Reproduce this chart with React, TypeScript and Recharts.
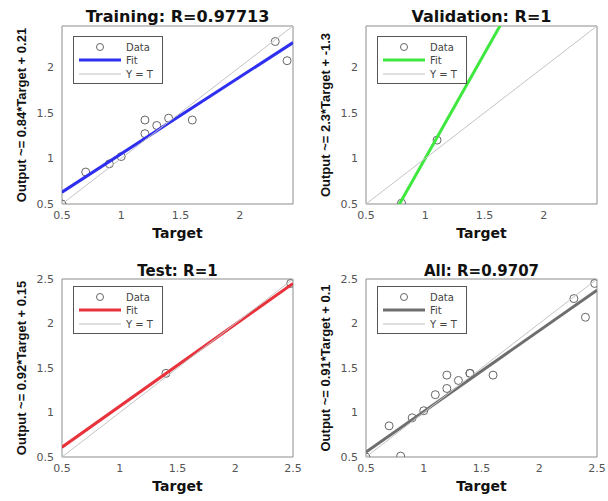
import { ScatterChart, Scatter, XAxis, YAxis, ReferenceArea } from "recharts";

// targets / outputs
const trainTarget = [0.5, 0.7, 0.9, 1.0, 1.2, 1.2, 1.3, 1.4, 1.6, 2.3, 2.4];
const trainOutput = [0.5, 0.85, 0.94, 1.02, 1.42, 1.27, 1.36, 1.44, 1.42, 2.28, 2.07];
const valTarget = [0.8, 1.1];
const valOutput = [0.51, 1.2];
const testTarget = [1.4, 2.48];
const testOutput = [1.44, 2.45];

const titles = ["Training: R=0.97713", "Validation: R=1", "Test: R=1", "All: R=0.9707"];
const yLabels = [
  "Output ~= 0.84*Target + 0.21",
  "Output ~= 2.3*Target + -1.3",
  "Output ~= 0.92*Target + 0.15",
  "Output ~= 0.91*Target + 0.1",
];
const fitSlopes = [0.84, 2.3, 0.92, 0.91];
const fitIntercepts = [0.21, -1.3, 0.15, 0.1];
const fitColors = ["#2f2ff0", "#3ee83e", "#e8323c", "#6e6e6e"];
const ticksTop = [0.5, 1, 1.5, 2];
const ticksBottom = [0.5, 1, 1.5, 2, 2.5];

const toPoints = (xs: number[], ys: number[]) => xs.map((x, i) => ({ x, y: ys[i] }));

const allTarget = [...trainTarget, ...valTarget, ...testTarget];
const allOutput = [...trainOutput, ...valOutput, ...testOutput];

const tickStyle = { fill: "#555", fontSize: 11 };

function RegLegend({ color }: { color: string }) {
  const rows = [11, 24, 38];
  return (
    <div
      style={{
        position: "absolute",
        left: 73,
        top: 36,
        width: 90,
        height: 48,
        background: "#fff",
        border: "1px solid #555",
        boxSizing: "border-box",
      }}
    >
      <svg width={88} height={46} style={{ position: "absolute", left: 0, top: 0 }}>
        <circle cx={26} cy={rows[0] - 1} r={3.5} fill="none" stroke="#666" />
        <line x1={5} x2={47} y1={rows[1] - 1} y2={rows[1] - 1} stroke={color} strokeWidth={3} />
        <line x1={5} x2={47} y1={rows[2] - 1} y2={rows[2] - 1} stroke="#c0c0c0" strokeWidth={1} />
        {["Data", "Fit", "Y = T"].map((t, i) => (
          <text key={t} x={52} y={rows[i] + 3} fontSize={10} fill="#444">
            {t}
          </text>
        ))}
      </svg>
    </div>
  );
}

function RegPanel({
  idx,
  points,
  domain,
  ticks,
  bottomRow,
}: {
  idx: number;
  points: { x: number; y: number }[];
  domain: [number, number];
  ticks: number[];
  bottomRow: boolean;
}) {
  const [lo, hi] = domain;
  const fit = [lo, hi].map((x) => ({ x, y: fitSlopes[idx] * x + fitIntercepts[idx] }));
  const ident = [lo, hi].map((x) => ({ x, y: x }));
  const h = bottomRow ? 251 : 250;
  const top = bottomRow ? 29 : 26;
  const xh = bottomRow ? 44 : 46;
  return (
    <div style={{ position: "relative", width: 304, height: h }}>
      <div
        style={{
          position: "absolute",
          left: 62,
          width: 231,
          top: bottomRow ? 13 : 9,
          textAlign: "center",
          fontWeight: "bold",
          fontSize: bottomRow ? 15 : 16,
          lineHeight: "16px",
          color: "#111",
        }}
      >
        {titles[idx]}
      </div>
      <ScatterChart width={304} height={h} margin={{ top, right: 11, bottom: 0, left: 0 }}>
        <XAxis
          type="number"
          dataKey="x"
          domain={domain}
          ticks={ticks}
          allowDataOverflow
          axisLine={false}
          tickLine={false}
          tickMargin={1}
          height={xh}
          tick={tickStyle}
          label={{
            value: "Target",
            position: "insideBottom",
            offset: bottomRow ? 10 : 12,
            style: { fontWeight: "bold", fontSize: 14, fill: "#111" },
          }}
        />
        <YAxis
          type="number"
          dataKey="y"
          domain={domain}
          ticks={ticks}
          allowDataOverflow
          axisLine={false}
          tickLine={false}
          tickMargin={2}
          width={62}
          tick={tickStyle}
          label={{
            value: yLabels[idx],
            angle: -90,
            position: "insideLeft",
            offset: 21,
            style: {
              textAnchor: "middle",
              fontWeight: "bold",
              fontSize: 13,
              fontFamily: "'Liberation Sans', Arial, sans-serif",
              fill: "#111",
            },
          }}
        />
        <Scatter
          data={points}
          isAnimationActive={false}
          shape={(p: any) => <circle cx={p.cx} cy={p.cy} r={4} fill="none" stroke="#666" strokeWidth={1} />}
        />
        <Scatter
          data={fit}
          isAnimationActive={false}
          line={{ stroke: fitColors[idx], strokeWidth: 3 }}
          shape={() => <g />}
        />
        <Scatter
          data={ident}
          isAnimationActive={false}
          line={{ stroke: "#c4c4c4", strokeWidth: 1 }}
          shape={() => <g />}
        />
        <ReferenceArea x1={lo} x2={hi} y1={lo} y2={hi} fill="none" stroke="#8c8c8c" ifOverflow="visible" />
      </ScatterChart>
      <RegLegend color={fitColors[idx]} />
    </div>
  );
}

export default function App() {
  const topDomain: [number, number] = [0.5, 2.45];
  const bottomDomain: [number, number] = [0.5, 2.5];
  return (
    <div
      style={{
        position: "absolute",
        left: 0,
        top: 0,
        width: 608,
        height: 501,
        background: "#fff",
        fontFamily: "'DejaVu Sans', sans-serif",
        display: "grid",
        gridTemplateColumns: "304px 304px",
        gridTemplateRows: "250px 251px",
      }}
    >
      <RegPanel idx={0} points={toPoints(trainTarget, trainOutput)} domain={topDomain} ticks={ticksTop} bottomRow={false} />
      <RegPanel idx={1} points={toPoints(valTarget, valOutput)} domain={topDomain} ticks={ticksTop} bottomRow={false} />
      <RegPanel idx={2} points={toPoints(testTarget, testOutput)} domain={bottomDomain} ticks={ticksBottom} bottomRow />
      <RegPanel idx={3} points={toPoints(allTarget, allOutput)} domain={bottomDomain} ticks={ticksBottom} bottomRow />
    </div>
  );
}
